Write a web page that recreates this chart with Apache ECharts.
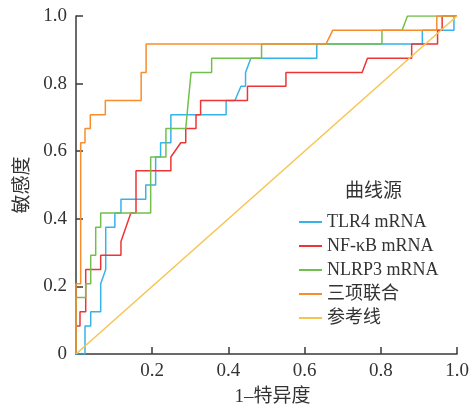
<!DOCTYPE html>
<html><head><meta charset="utf-8">
<script src="https://cdn.jsdelivr.net/npm/echarts@6/dist/echarts.min.js"></script>
<style>html,body{margin:0;padding:0;background:#fff}#c{width:471px;height:405px}</style>
</head><body><div id="c"></div>
<script>
// ROC points: [1-specificity, sensitivity]
const tlr4Points = [[0,0],[0.0236,0],[0.0236,0.083],[0.0386,0.083],[0.0386,0.125],[0.0648,0.125],[0.0648,0.208],[0.078,0.25],[0.078,0.375],[0.102,0.375],[0.102,0.417],[0.118,0.417],[0.118,0.458],[0.183,0.458],[0.183,0.5],[0.209,0.5],[0.209,0.583],[0.222,0.583],[0.222,0.625],[0.249,0.625],[0.249,0.708],[0.394,0.708],[0.394,0.75],[0.417,0.75],[0.433,0.792],[0.445,0.792],[0.445,0.833],[0.459,0.875],[0.632,0.875],[0.632,0.917],[0.909,0.917],[0.909,0.958],[0.992,0.958],[0.992,1],[1,1]];
const nfkbPoints = [[0,0],[0,0.083],[0.0105,0.083],[0.0105,0.125],[0.0255,0.125],[0.0255,0.25],[0.0648,0.25],[0.0648,0.292],[0.118,0.292],[0.118,0.333],[0.144,0.417],[0.1575,0.417],[0.1575,0.542],[0.249,0.542],[0.249,0.583],[0.275,0.625],[0.288,0.625],[0.288,0.667],[0.315,0.667],[0.315,0.708],[0.327,0.708],[0.327,0.75],[0.45,0.75],[0.45,0.792],[0.551,0.792],[0.551,0.833],[0.751,0.833],[0.765,0.875],[0.881,0.875],[0.881,0.917],[0.949,0.917],[0.949,0.958],[0.961,0.958],[0.961,1],[1,1]];
const nlrp3Points = [[0,0],[0,0.167],[0.0255,0.167],[0.0255,0.208],[0.0386,0.208],[0.0386,0.292],[0.0517,0.292],[0.0517,0.375],[0.0648,0.375],[0.0648,0.417],[0.196,0.417],[0.196,0.583],[0.236,0.583],[0.236,0.667],[0.288,0.667],[0.302,0.833],[0.356,0.833],[0.356,0.875],[0.487,0.875],[0.487,0.917],[0.803,0.917],[0.803,0.958],[0.856,0.958],[0.87,1],[1,1]];
const combinedPoints = [[0,0],[0,0.208],[0.0123,0.208],[0.0123,0.625],[0.0236,0.625],[0.0236,0.667],[0.0375,0.667],[0.0375,0.708],[0.077,0.708],[0.077,0.75],[0.171,0.75],[0.171,0.833],[0.184,0.833],[0.184,0.917],[0.656,0.917],[0.674,0.958],[0.947,0.958],[0.947,1],[1,1]];
const referencePoints = [[0,0],[1,1]];
const seriesNames = ['TLR4 mRNA','NF-κB mRNA','NLRP3 mRNA','三项联合','参考线'];
const seriesColors = ['#35b3ea','#ee3535','#72bf4c','#f78d2c','#f5c552'];
const legendTitle = '曲线源';
const xAxisName = '1–特异度';
const yAxisName = '敏感度';

const font = "'Liberation Serif','Noto Sans CJK SC',serif";
const allData = [tlr4Points, nfkbPoints, nlrp3Points, combinedPoints, referencePoints];
const chart = echarts.init(document.getElementById('c'), null, {renderer:'canvas'});
chart.setOption({
  animation:false,
  backgroundColor:'#fff',
  textStyle:{fontFamily:font},
  title:{text:legendTitle,left:345,top:183,padding:0,textStyle:{fontFamily:font,fontSize:19,fontWeight:'normal',color:'#333'}},
  legend:{orient:'vertical',left:299,top:212,padding:0,icon:'rect',itemWidth:23,itemHeight:2,itemGap:4,
    textStyle:{fontFamily:font,fontSize:18,lineHeight:20,color:'#333'},data:seriesNames},
  grid:{left:76,right:14,top:16,bottom:51,containLabel:false,outerBoundsMode:'none'},
  xAxis:{type:'value',min:0,max:1,interval:0.2,
    name:xAxisName,nameLocation:'middle',nameGap:34,
    nameTextStyle:{fontFamily:font,fontSize:19,color:'#333',padding:[0,0,0,12]},
    axisLine:{show:true,onZero:false,lineStyle:{color:'#3a3a3a',width:1.5}},
    axisTick:{show:true,inside:true,length:7,lineStyle:{color:'#3a3a3a',width:1.5}},
    axisLabel:{margin:8,fontSize:19,color:'#333',fontFamily:font,formatter:v=>v===0?'':v.toFixed(1)},
    splitLine:{show:false}},
  yAxis:{type:'value',min:0,max:1,interval:0.2,
    name:yAxisName,nameLocation:'middle',nameGap:42,
    nameTextStyle:{fontFamily:font,fontSize:19,color:'#333'},
    axisLine:{show:true,onZero:false,lineStyle:{color:'#3a3a3a',width:1.5}},
    axisTick:{show:true,inside:true,length:7,lineStyle:{color:'#3a3a3a',width:1.5}},
    axisLabel:{margin:9,fontSize:19,color:'#333',fontFamily:font,formatter:v=>v===0?'0':v.toFixed(1)},
    splitLine:{show:false}},
  series: allData.map((d,i)=>({
    name:seriesNames[i],type:'line',data:d,showSymbol:false,symbol:'none',
    lineStyle:{color:seriesColors[i],width:1.5},itemStyle:{color:seriesColors[i]},
    z:2+i
  }))
});
</script></body></html>
